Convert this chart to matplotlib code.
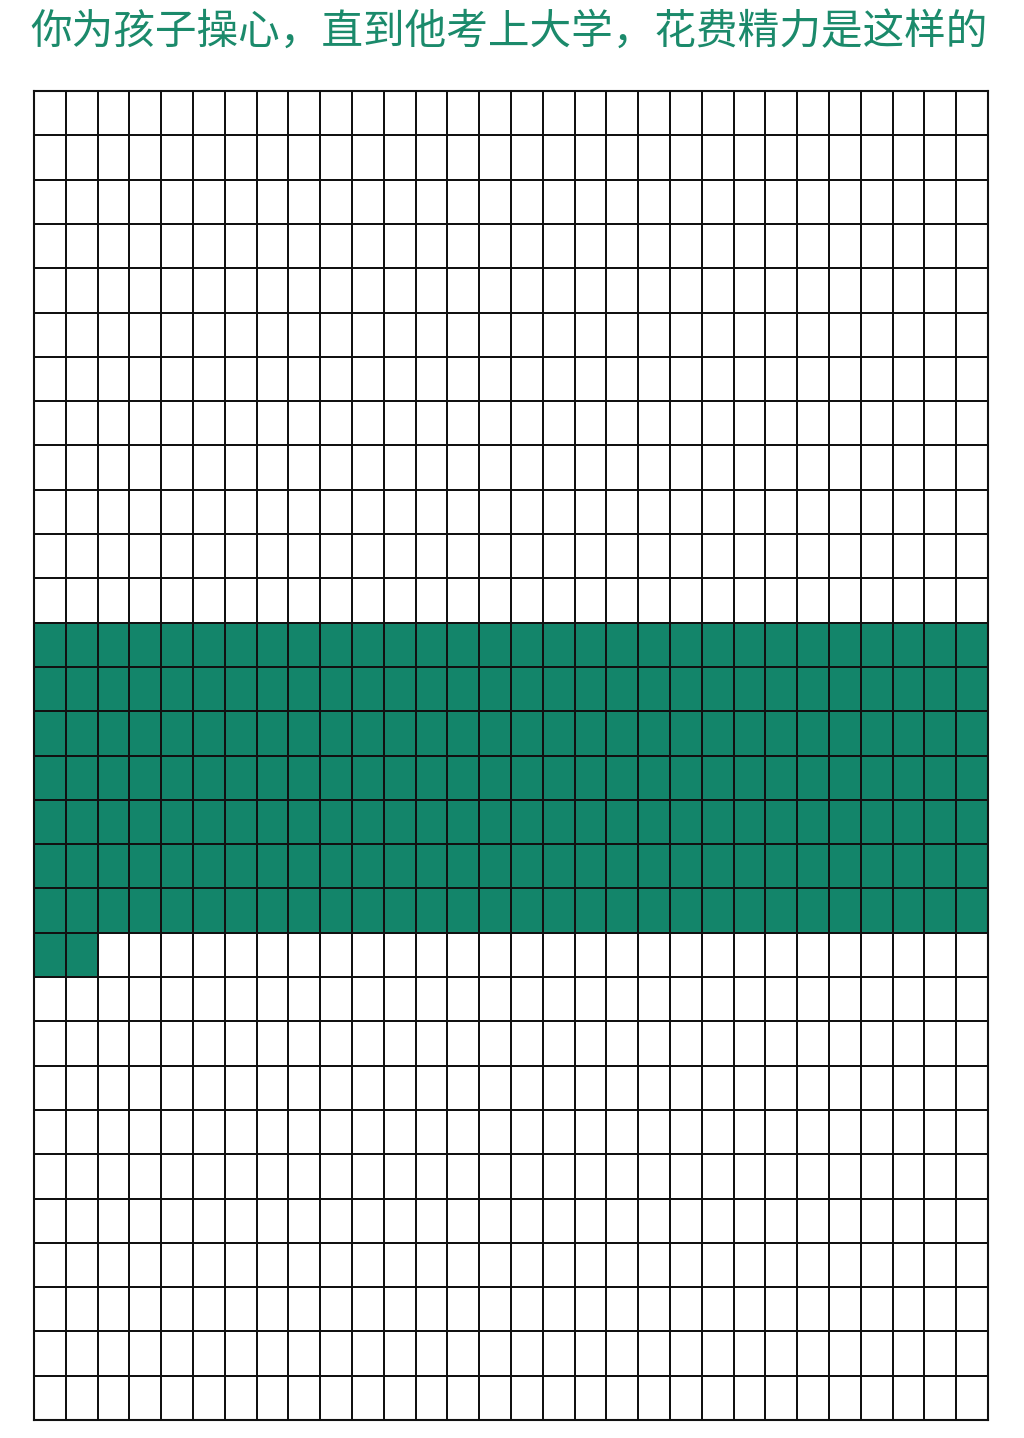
#!/usr/bin/env python3

import matplotlib
matplotlib.use("Agg")
import matplotlib.pyplot as plt
import numpy as np
from matplotlib.colors import ListedColormap

plt.rcParams['font.family'] = ['Noto Sans CJK SC', 'DejaVu Sans']

title = "你为孩子操心，直到他考上大学，花费精力是这样的"

# waffle grid: 30 x 30 cells, read row by row from the top
n_rows = 30
n_cols = 30
empty_before = 360     # cells left blank before the shaded block
filled_cells = 212     # shaded cells

green = "#13856a"

cells = np.zeros(n_rows * n_cols)
cells[empty_before:empty_before + filled_cells] = 1
grid = cells.reshape(n_rows, n_cols)

fig = plt.figure(figsize=(10.24, 14.38), dpi=100)
W, H = 1024, 1438
ax = fig.add_axes([34 / W, (H - 1420) / H, (988 - 34) / W, (1420 - 91) / H])

ax.pcolormesh(grid, cmap=ListedColormap(["white", green]), vmin=0, vmax=1,
              edgecolors="#111111", linewidth=1.3)
ax.set_xlim(0, n_cols)
ax.set_ylim(n_rows, 0)
ax.set_xticks([])
ax.set_yticks([])
for s in ax.spines.values():
    s.set_linewidth(1.5)
    s.set_color("#111111")

fig.text(30 / W, 1 - 32 / H, title, color="#1b8a6b", fontsize=30,
         ha="left", va="center")

fig.savefig("out.png", dpi=100, facecolor="white")
